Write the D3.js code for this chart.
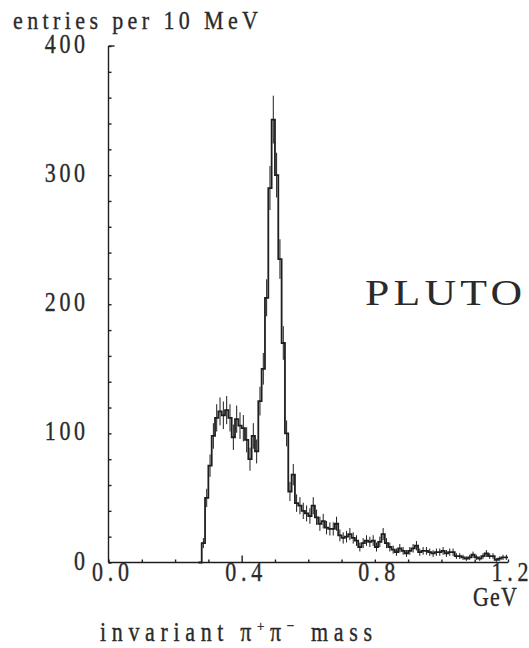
<!DOCTYPE html>
<html>
<head>
<meta charset="utf-8">
<script src="https://cdn.jsdelivr.net/npm/d3@7"></script>
<style>
  body { margin: 0; background: #fff; }
  text { font-family: "Liberation Serif", "DejaVu Serif", serif; fill: #2a2a2a; stroke: #2a2a2a; stroke-width: 0.3px; }
</style>
</head>
<body>
<svg id="histSvg" width="529" height="648"></svg>
<script>
// pi+pi- invariant mass, entries per 10 MeV, bins starting at 0.27 GeV
const firstEdge = 0.27;
const binWidth = 0.01;
const counts = [
  0, 15, 50, 75, 98, 112, 117, 114, 118, 112,
  97, 111, 106, 104, 95, 80, 98, 86, 125, 150,
  205, 290, 343, 300, 235, 170, 100, 55, 68, 46,
  44, 40, 38, 36, 44, 35, 30, 32, 27, 26,
  26, 30, 21, 19, 20, 22, 19, 17, 12, 15,
  17, 16, 17, 12, 16, 22, 15, 12, 10, 8,
  11, 9, 7, 9, 11, 13, 8, 9, 9, 8,
  7, 8, 8, 9, 7, 8, 8, 5, 5, 4,
  3, 4, 6, 4, 3, 5, 7, 5, 5, 2,
  3, 4, 4
];
const yLabels = [0, 100, 200, 300, 400];
const yMinor = d3.range(0, 401, 20);
const xLabels = [0.0, 0.4, 0.8, 1.2];
const xMinor = d3.range(0, 1.21, 0.1);

const svg = d3.select('#histSvg');
const ink = '#1e1e1e';
const pitch = 13.4; // typewriter character pitch in the scan

const xScale = d3.scaleLinear().domain([0, 1.2]).range([108.5, 508]);
const yScale = d3.scaleLinear().domain([0, 400]).range([562.5, 46]);

// axes, ticks pointing inward
const gY = svg.append('g').attr('transform', `translate(${xScale(0)},0)`);
gY.call(d3.axisLeft(yScale).tickValues(yMinor).tickSize(-3).tickFormat(''));
gY.call(g => g.append('line').attr('x1', 0).attr('x2', 6)
  .attr('y1', yScale(400)).attr('y2', yScale(400)));
const gX = svg.append('g').attr('transform', `translate(0,${yScale(0)})`);
gX.call(d3.axisBottom(xScale).tickValues(xMinor).tickSize(-3).tickFormat(''));
gX.selectAll('.tick').filter(d => Math.abs(d - 0.4) < 1e-6).select('line').attr('y2', -7);
svg.selectAll('.domain').attr('d', null);
gY.append('line').attr('y1', yScale(0)).attr('y2', yScale(400));
gX.append('line').attr('x1', xScale(0)).attr('x2', xScale(1.2));
svg.selectAll('g line').attr('stroke', ink).attr('stroke-width', 1.4);

// typewriter-like labels, spread to a fixed pitch and stretched vertically like the scan
function label(x, y, str, anchor, size, len, sy) {
  return svg.append('text')
    .attr('transform', `translate(${x},${y}) scale(1,${sy || 1.2})`)
    .attr('text-anchor', anchor)
    .attr('textLength', len || str.length * pitch)
    .attr('lengthAdjust', 'spacing')
    .style('font-size', size + 'px')
    .text(str);
}

yLabels.forEach(v => label(85, yScale(v) + 7, d3.format('d')(v), 'end', 22));
xLabels.forEach(v => label(xScale(v) + 2, yScale(0) + 18, d3.format('.1f')(v), 'middle', 22, 37));

label(13, 29, 'entries per 10 MeV', 'start', 22, 245, 1.12);
label(517, 606, 'GeV', 'end', 22, 44);

const axisTitle = label(100, 641, 'invariant ', 'start', 22, 272);
axisTitle.append('tspan').text('\u03c0');
axisTitle.append('tspan').attr('dy', -8).style('font-size', '13px').text('+');
axisTitle.append('tspan').attr('dy', 8).text('\u03c0');
axisTitle.append('tspan').attr('dy', -8).style('font-size', '13px').text('\u2212');
axisTitle.append('tspan').attr('dy', 8).text(' mass');

// experiment name: wide, light roman letters
svg.append('text')
  .attr('transform', 'translate(365,305) scale(1.25,1)')
  .attr('textLength', 157 / 1.25).attr('lengthAdjust', 'spacing')
  .style('font-size', '35px')
  .style('stroke-width', '0px')
  .text('PLUTO');

// histogram
const bins = counts.map((c, i) => ({ x0: firstEdge + i * binWidth, x1: firstEdge + (i + 1) * binWidth, n: c }));
const stepPts = bins.map(b => [b.x0, b.n]);
stepPts.push([bins[bins.length - 1].x1, bins[bins.length - 1].n]);

const line = d3.line()
  .x(d => xScale(d[0]))
  .y(d => yScale(d[1]))
  .curve(d3.curveStepAfter);

svg.append('path')
  .datum(stepPts)
  .attr('d', line)
  .attr('fill', 'none')
  .attr('stroke', ink)
  .attr('stroke-width', 1.8);

// statistical error bars
svg.append('g').selectAll('line')
  .data(bins.filter(b => b.n > 0))
  .enter()
  .append('line')
  .attr('x1', d => xScale((d.x0 + d.x1) / 2))
  .attr('x2', d => xScale((d.x0 + d.x1) / 2))
  .attr('y1', d => yScale(d.n - Math.sqrt(d.n)))
  .attr('y2', d => yScale(d.n + Math.sqrt(d.n)))
  .attr('stroke', ink)
  .attr('stroke-width', 1);
</script>
</body>
</html>
